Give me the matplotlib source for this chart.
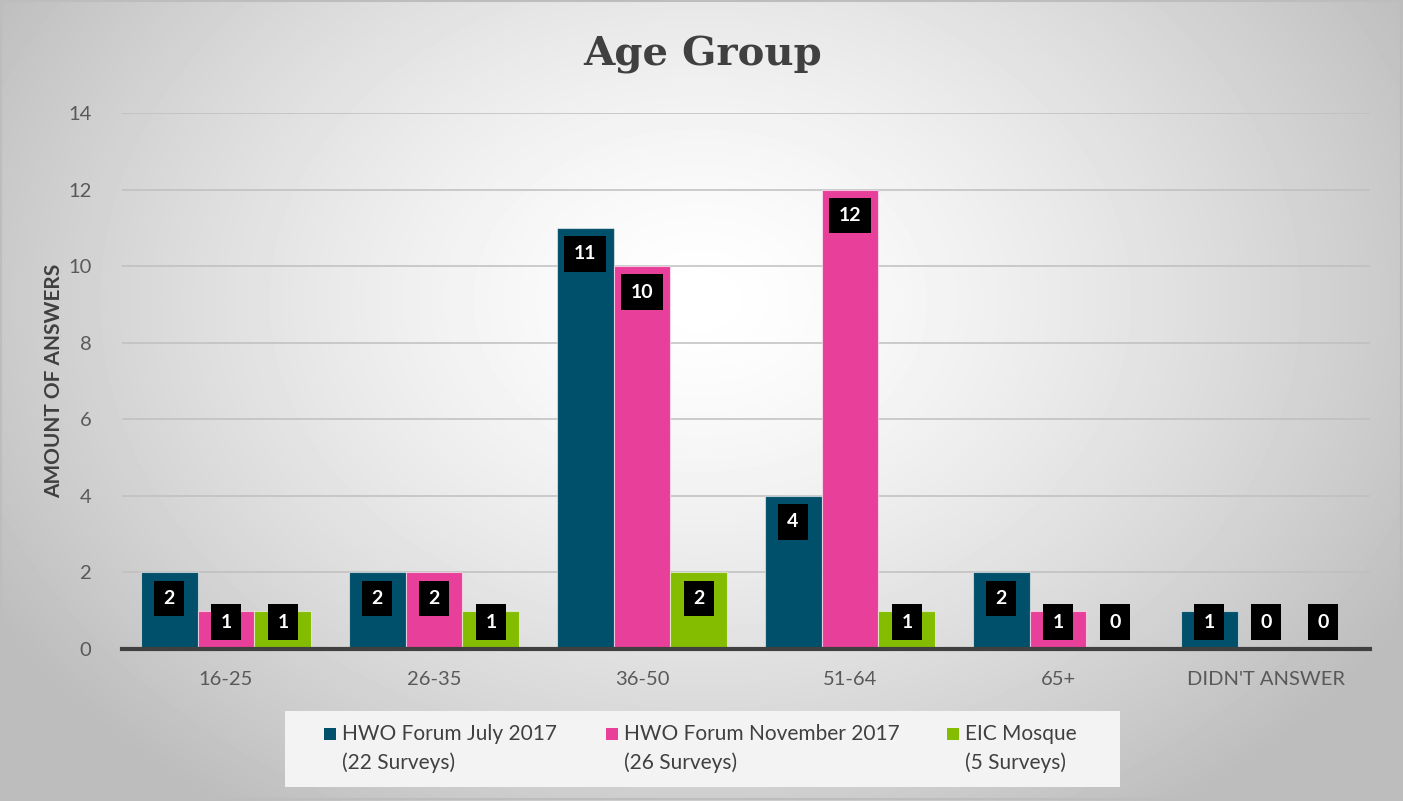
import numpy as np
import matplotlib
matplotlib.use("Agg")
import matplotlib.pyplot as plt
from matplotlib.patches import Rectangle

categories = ["16-25", "26-35", "36-50", "51-64", "65+", "DIDN'T ANSWER"]
series_names = ["HWO Forum July 2017\n(22 Surveys)",
                "HWO Forum November 2017\n(26 Surveys)",
                "EIC Mosque\n(5 Surveys)"]
july_2017 = [2, 2, 11, 4, 2, 1]
nov_2017 = [1, 2, 10, 12, 1, 0]
eic_mosque = [1, 1, 2, 1, 0, 0]
series_values = [july_2017, nov_2017, eic_mosque]
colors = ["#00506b", "#e8409a", "#84bd00"]
yticks = [0, 2, 4, 6, 8, 10, 12, 14]

W, H = 1403, 801
fig = plt.figure(figsize=(W / 100, H / 100), dpi=100)

# radial gradient background
bg = fig.add_axes([0, 0, 1, 1], zorder=-10)
yy, xx = np.mgrid[0:H, 0:W]
cx, cy = 700, 300
r = np.sqrt(((xx - cx) / 820.0) ** 2 + ((yy - cy) / 620.0) ** 2)
val = np.clip(1.0 - 0.26 * r ** 1.4, 0.74, 1.0)
bg.imshow(val, cmap="gray", vmin=0, vmax=1, extent=[0, W, H, 0], aspect="auto", interpolation="bilinear")
bg.set_xlim(0, W); bg.set_ylim(H, 0)
bg.axis("off")
bg.add_patch(Rectangle((1, 1), W - 3, H - 3, fill=False, edgecolor="#bdbdbd", lw=1.5))

font = "Lato"
ax = fig.add_axes([122 / W, 1 - 649 / H, (1370 - 122) / W, (649 - 113) / H])
ax.set_facecolor("none")
x = np.arange(len(categories))
bw = 0.274
offsets = [-bw, 0, bw]
for vals, off, col in zip(series_values, offsets, colors):
    ax.bar(x + off, vals, width=bw, color=col, edgecolor=(1, 1, 1, 0.55), linewidth=0.8, zorder=3)
    for xi, v in zip(x + off, vals):
        yc = max(v - 0.68, 0.7)
        ax.text(xi, yc, str(v), ha="center", va="center", color="white", fontsize=14,
                fontweight="bold", family=font, zorder=5,
                bbox=dict(boxstyle="square,pad=0.48", facecolor="black", edgecolor="none"))

ax.set_xlim(-0.5, len(categories) - 0.5)
ax.set_ylim(0, 14)
ax.set_yticks(yticks)
ax.set_yticklabels([str(t) for t in yticks], family=font, fontsize=14.5, color="#595959")
ax.set_xticks(x)
ax.set_xticklabels(categories, family=font, fontsize=14.5, color="#595959")
ax.tick_params(axis="y", length=0, pad=22)
ax.tick_params(axis="x", length=0, pad=16)
ax.grid(axis="y", color="#bfbfbf", lw=1.1, zorder=0)
for s in ["top", "right", "left"]:
    ax.spines[s].set_visible(False)
ax.spines["bottom"].set_color("#404040")
ax.spines["bottom"].set_linewidth(3)
ax.spines["bottom"].set_zorder(4)
ax.set_ylabel("AMOUNT OF ANSWERS", family=font, fontsize=15, fontweight="bold", color="#404040")
ax.yaxis.set_label_coords(-0.046, 0.5)

fig.text(703 / W, 1 - 55 / H, "Age Group", ha="center", va="center", family="DejaVu Serif",
         fontweight="bold", fontsize=29, color="#404040")

# legend box
fig.patches.append(Rectangle((285 / W, 1 - 787 / H), (1120 - 285) / W, (787 - 711) / H,
                             transform=fig.transFigure, facecolor="#f3f3f3", edgecolor="none", zorder=1))
marker_x = [330, 612, 953]
for mx, name, col in zip(marker_x, series_names, colors):
    fig.patches.append(Rectangle(((mx - 6) / W, 1 - 740 / H), 12 / W, 12 / H, transform=fig.transFigure,
                                 facecolor=col, edgecolor="none", zorder=2))
    fig.text((mx + 12) / W, 1 - 724 / H, name, ha="left", va="top", family=font, fontsize=15,
             color="#404040", linespacing=1.5, zorder=3)

fig.savefig("out.png", dpi=100)
